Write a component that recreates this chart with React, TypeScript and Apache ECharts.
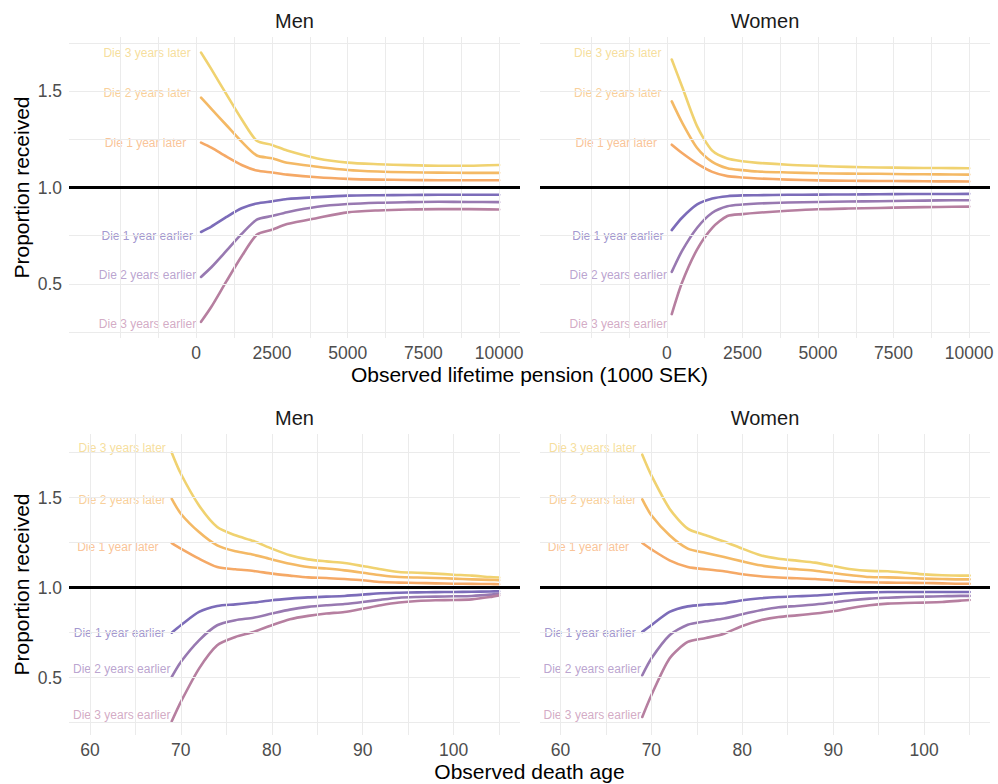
import React, { useEffect, useRef } from "react";
import * as echarts from "echarts";

const FONT = '"Liberation Sans", Arial, Helvetica, sans-serif';

// ---------- shared ----------
const groupNames = [
  "Die 3 years later",
  "Die 2 years later",
  "Die 1 year later",
  "Die 1 year earlier",
  "Die 2 years earlier",
  "Die 3 years earlier",
];
const panelTitles = ["Men", "Women", "Men", "Women"];
const xAxisTitles = ["Observed lifetime pension (1000 SEK)", "Observed death age"];
const yAxisTitle = "Proportion received";

// ---------- tick / grid values ----------
const pensionTicks = [0, 2500, 5000, 7500, 10000];
const pensionGridX = [-2500, -1250, 0, 1250, 2500, 3750, 5000, 6250, 7500, 8750, 10000];
const ageTicks = [60, 70, 80, 90, 100];
const ageGridX = [60, 65, 70, 75, 80, 85, 90, 95, 100, 105];
const propTicks = [0.5, 1.0, 1.5];
const propGridY = [0.25, 0.5, 0.75, 1.0, 1.25, 1.5, 1.75];
const referenceY = 1.0;

// ---------- x values ----------
const pensionX = [160, 500, 1000, 1500, 2000, 2500, 3000, 4000, 5000, 6000, 7000, 8000, 9000, 10000];
const ageX = [69, 70, 72, 74, 76, 78, 80, 82, 84, 86, 88, 90, 92, 94, 96, 98, 100, 102, 104, 105];

// ---------- Men, lifetime pension ----------
const menPensionLater3 = [1.700, 1.614, 1.483, 1.354, 1.242, 1.221, 1.192, 1.151, 1.129, 1.121, 1.116, 1.113, 1.113, 1.117];
const menPensionLater2 = [1.466, 1.408, 1.323, 1.238, 1.166, 1.152, 1.128, 1.108, 1.091, 1.083, 1.079, 1.077, 1.076, 1.076];
const menPensionLater1 = [1.233, 1.207, 1.160, 1.117, 1.088, 1.078, 1.067, 1.053, 1.045, 1.041, 1.039, 1.038, 1.038, 1.038];
const menPensionEarlier1 = [0.769, 0.797, 0.847, 0.892, 0.917, 0.928, 0.940, 0.950, 0.958, 0.960, 0.961, 0.962, 0.962, 0.962];
const menPensionEarlier2 = [0.536, 0.586, 0.672, 0.759, 0.833, 0.852, 0.872, 0.900, 0.914, 0.921, 0.924, 0.926, 0.925, 0.924];
const menPensionEarlier3 = [0.303, 0.381, 0.514, 0.643, 0.755, 0.781, 0.810, 0.842, 0.871, 0.881, 0.886, 0.888, 0.888, 0.886];

// ---------- Women, lifetime pension ----------
const womenPensionLater3 = [1.664, 1.524, 1.317, 1.191, 1.150, 1.136, 1.128, 1.118, 1.112, 1.107, 1.104, 1.102, 1.101, 1.100];
const womenPensionLater2 = [1.447, 1.338, 1.205, 1.133, 1.100, 1.090, 1.083, 1.078, 1.074, 1.072, 1.071, 1.069, 1.068, 1.067];
const womenPensionLater1 = [1.222, 1.179, 1.124, 1.081, 1.059, 1.052, 1.047, 1.041, 1.037, 1.035, 1.034, 1.033, 1.032, 1.031];
const womenPensionEarlier1 = [0.779, 0.843, 0.912, 0.943, 0.955, 0.959, 0.960, 0.962, 0.963, 0.964, 0.965, 0.966, 0.966, 0.967];
const womenPensionEarlier2 = [0.562, 0.671, 0.791, 0.869, 0.903, 0.912, 0.917, 0.922, 0.925, 0.927, 0.929, 0.931, 0.933, 0.934];
const womenPensionEarlier3 = [0.343, 0.507, 0.679, 0.791, 0.852, 0.862, 0.869, 0.879, 0.887, 0.891, 0.894, 0.897, 0.899, 0.901];

// ---------- Men, death age ----------
const menAgeLater3 = [1.750, 1.633, 1.457, 1.337, 1.291, 1.259, 1.217, 1.180, 1.157, 1.146, 1.137, 1.120, 1.102, 1.087, 1.083, 1.078, 1.072, 1.067, 1.059, 1.056];
const menAgeLater2 = [1.494, 1.411, 1.309, 1.235, 1.202, 1.183, 1.157, 1.133, 1.115, 1.106, 1.096, 1.083, 1.069, 1.059, 1.056, 1.054, 1.050, 1.046, 1.043, 1.041];
const menAgeLater1 = [1.248, 1.217, 1.161, 1.115, 1.102, 1.093, 1.078, 1.067, 1.057, 1.054, 1.048, 1.041, 1.031, 1.028, 1.026, 1.024, 1.022, 1.021, 1.020, 1.019];
const menAgeEarlier1 = [0.750, 0.791, 0.865, 0.898, 0.907, 0.917, 0.930, 0.939, 0.946, 0.950, 0.954, 0.961, 0.969, 0.972, 0.974, 0.975, 0.976, 0.977, 0.979, 0.980];
const menAgeEarlier2 = [0.504, 0.587, 0.707, 0.791, 0.819, 0.833, 0.856, 0.878, 0.893, 0.902, 0.909, 0.920, 0.933, 0.944, 0.948, 0.950, 0.952, 0.954, 0.961, 0.967];
const menAgeEarlier3 = [0.257, 0.365, 0.550, 0.680, 0.726, 0.754, 0.791, 0.824, 0.843, 0.856, 0.865, 0.883, 0.902, 0.917, 0.926, 0.930, 0.931, 0.935, 0.948, 0.957];

// ---------- Women, death age ----------
const womenAgeLater3 = [1.739, 1.624, 1.439, 1.328, 1.291, 1.257, 1.217, 1.180, 1.161, 1.150, 1.139, 1.120, 1.102, 1.093, 1.091, 1.083, 1.074, 1.069, 1.067, 1.067];
const womenAgeLater2 = [1.491, 1.402, 1.291, 1.217, 1.193, 1.170, 1.146, 1.124, 1.111, 1.102, 1.094, 1.081, 1.069, 1.059, 1.057, 1.054, 1.050, 1.048, 1.046, 1.046];
const womenAgeLater1 = [1.248, 1.213, 1.152, 1.115, 1.102, 1.091, 1.074, 1.063, 1.056, 1.052, 1.048, 1.041, 1.033, 1.030, 1.028, 1.027, 1.026, 1.024, 1.022, 1.022];
const womenAgeEarlier1 = [0.754, 0.791, 0.865, 0.896, 0.906, 0.913, 0.930, 0.941, 0.948, 0.952, 0.956, 0.963, 0.970, 0.974, 0.976, 0.976, 0.976, 0.976, 0.976, 0.976];
const womenAgeEarlier2 = [0.513, 0.606, 0.735, 0.794, 0.813, 0.828, 0.852, 0.874, 0.891, 0.898, 0.906, 0.917, 0.930, 0.939, 0.944, 0.948, 0.950, 0.952, 0.954, 0.954];
const womenAgeEarlier3 = [0.281, 0.402, 0.606, 0.698, 0.720, 0.744, 0.787, 0.819, 0.837, 0.846, 0.856, 0.869, 0.887, 0.902, 0.911, 0.915, 0.917, 0.920, 0.928, 0.931];

// ---------- label anchor positions (data coordinates) ----------
const pensionLabelX = [-180, -180, -330, -110, 0, 0];
const pensionLabelY = [1.697, 1.49, 1.229, 0.75, 0.548, 0.29];
const ageLabelX = [68.35, 68.35, 67.55, 68.27, 68.85, 68.85];
const ageLabelY = [1.778, 1.487, 1.228, 0.748, 0.55, 0.29];

// ---------- colours ----------
const lineColors = ["#f0d270", "#f4b965", "#f5a966", "#7c6cb9", "#9879b1", "#b67fa0"];
const labelColors = ["#f4d683", "#f7c480", "#f8b47c", "#8a7cc2", "#a98cc3", "#c895b6"];

function App() {
  const ref = useRef<HTMLDivElement>(null);

  useEffect(() => {
    if (!ref.current) return;
    const chart = echarts.init(ref.current, undefined, { renderer: "svg" });

    const grids = [
      { left: 69, top: 37, width: 451, height: 301 },
      { left: 540, top: 37, width: 450, height: 301 },
      { left: 69, top: 434, width: 451, height: 301 },
      { left: 540, top: 434, width: 450, height: 301 },
    ];

    const panels = [
      { xs: pensionX, ys: [menPensionLater3, menPensionLater2, menPensionLater1, menPensionEarlier1, menPensionEarlier2, menPensionEarlier3], lx: pensionLabelX, ly: pensionLabelY, gx: pensionGridX, ticks: pensionTicks, xr: [-4200, 10690], yr: [0.219, 1.781], yLab: true },
      { xs: pensionX, ys: [womenPensionLater3, womenPensionLater2, womenPensionLater1, womenPensionEarlier1, womenPensionEarlier2, womenPensionEarlier3], lx: pensionLabelX, ly: pensionLabelY, gx: pensionGridX, ticks: pensionTicks, xr: [-4200, 10690], yr: [0.219, 1.781], yLab: false },
      { xs: ageX, ys: [menAgeLater3, menAgeLater2, menAgeLater1, menAgeEarlier1, menAgeEarlier2, menAgeEarlier3], lx: ageLabelX, ly: ageLabelY, gx: ageGridX, ticks: ageTicks, xr: [57.7, 107.3], yr: [0.181, 1.854], yLab: true },
      { xs: ageX, ys: [womenAgeLater3, womenAgeLater2, womenAgeLater1, womenAgeEarlier1, womenAgeEarlier2, womenAgeEarlier3], lx: ageLabelX, ly: ageLabelY, gx: ageGridX, ticks: ageTicks, xr: [57.75, 107.25], yr: [0.181, 1.854], yLab: false },
    ];

    const xAxis: any[] = [];
    const yAxis: any[] = [];
    const series: any[] = [];

    panels.forEach((p, i) => {
      xAxis.push({
        type: "value",
        gridIndex: i,
        min: p.xr[0],
        max: p.xr[1],
        axisLine: { show: false },
        axisTick: { show: false },
        splitLine: { show: false },
        axisLabel: {
          customValues: p.ticks,
          formatter: (v: number) => String(v),
          color: "#4d4d4d",
          fontSize: 17.5,
          fontFamily: FONT,
          margin: 6,
        },
      });
      yAxis.push({
        type: "value",
        gridIndex: i,
        min: p.yr[0],
        max: p.yr[1],
        axisLine: { show: false },
        axisTick: { show: false },
        splitLine: { show: false },
        axisLabel: {
          show: p.yLab,
          customValues: propTicks,
          formatter: (v: number) => v.toFixed(1),
          color: "#4d4d4d",
          fontSize: 17.5,
          fontFamily: FONT,
          margin: 7,
        },
      });

      // gridlines
      series.push({
        type: "line",
        xAxisIndex: i,
        yAxisIndex: i,
        data: [],
        silent: true,
        z: 1,
        markLine: {
          silent: true,
          symbol: ["none", "none"],
          label: { show: false },
          emphasis: { disabled: true },
          lineStyle: { color: "#ebebeb", width: 1, type: "solid" },
          data: [
            ...p.gx.map((v) => ({ xAxis: v })),
            ...propGridY.map((v) => ({ yAxis: v })),
          ],
        },
      });

      // curves
      p.ys.forEach((ys, k) => {
        series.push({
          type: "line",
          name: groupNames[k],
          xAxisIndex: i,
          yAxisIndex: i,
          data: p.xs.map((x, j) => [x, ys[j]]),
          showSymbol: false,
          symbol: "none",
          smooth: 0.25,
          silent: true,
          z: 3,
          lineStyle: { color: lineColors[k], width: 2.6, cap: "round", join: "round" },
          emphasis: { disabled: true },
        });
      });

      // text labels
      series.push({
        type: "scatter",
        xAxisIndex: i,
        yAxisIndex: i,
        symbolSize: 0,
        silent: true,
        z: 4,
        data: p.lx.map((x, k) => ({
          value: [x, p.ly[k]],
          label: { color: labelColors[k] },
        })),
        label: {
          show: true,
          position: "left",
          distance: 0,
          fontSize: 12,
          fontFamily: FONT,
          formatter: (params: any) => groupNames[params.dataIndex],
        },
        emphasis: { disabled: true },
      });

      // reference line at 1.0
      series.push({
        type: "line",
        xAxisIndex: i,
        yAxisIndex: i,
        data: [],
        silent: true,
        z: 5,
        markLine: {
          silent: true,
          symbol: ["none", "none"],
          label: { show: false },
          emphasis: { disabled: true },
          lineStyle: { color: "#000000", width: 3, type: "solid" },
          data: [{ yAxis: referenceY }],
        },
      });
    });

    const textStyle = (text: string, size: number, fill: string) => ({
      text,
      fontSize: size,
      fontFamily: FONT,
      fill,
      align: "center",
      verticalAlign: "middle",
    });

    const graphic: any[] = [
      { type: "text", x: 294.5, y: 21, style: textStyle(panelTitles[0], 20, "#1a1a1a") },
      { type: "text", x: 765, y: 21, style: textStyle(panelTitles[1], 20, "#1a1a1a") },
      { type: "text", x: 294.5, y: 418, style: textStyle(panelTitles[2], 20, "#1a1a1a") },
      { type: "text", x: 765, y: 418, style: textStyle(panelTitles[3], 20, "#1a1a1a") },
      { type: "text", x: 529.5, y: 374, style: textStyle(xAxisTitles[0], 21, "#000000") },
      { type: "text", x: 529.5, y: 771, style: textStyle(xAxisTitles[1], 21, "#000000") },
      { type: "text", x: 21, y: 187.5, rotation: Math.PI / 2, style: textStyle(yAxisTitle, 21, "#000000") },
      { type: "text", x: 21, y: 584.5, rotation: Math.PI / 2, style: textStyle(yAxisTitle, 21, "#000000") },
    ];

    chart.setOption({
      animation: false,
      backgroundColor: "#ffffff",
      textStyle: { fontFamily: FONT },
      grid: grids.map((g) => ({ ...g, containLabel: false })),
      xAxis,
      yAxis,
      series,
      graphic,
    });

    return () => {
      chart.dispose();
    };
  }, []);

  return (
    <div
      ref={ref}
      style={{ position: "absolute", left: 0, top: 0, width: 998, height: 784, background: "#fff" }}
    />
  );
}

export default App;
